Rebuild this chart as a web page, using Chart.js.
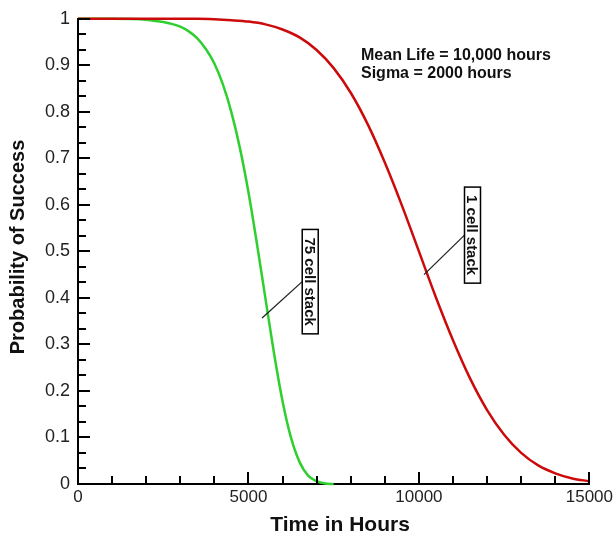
<!DOCTYPE html>
<html>
<head>
<meta charset="utf-8">
<script src="https://cdn.jsdelivr.net/npm/chart.js@4.4.1/dist/chart.umd.min.js"></script>
<style>
  html, body { margin: 0; padding: 0; background: #fff; }
  #wrap { width: 616px; height: 537px; }
</style>
</head>
<body>
<div id="wrap"><canvas id="chart" width="616" height="537"></canvas></div>
<script>
// Survival curves

// 1 cell stack (red)
const oneCellHours = [0, 500, 1000, 1500, 2000, 2500, 3000, 3500, 4000, 4500, 5000, 5500,
  6000, 6500, 7000, 7500, 8000, 8500, 9000, 9500, 10000, 10500, 11000, 11500,
  12000, 12500, 13000, 13500, 14000, 14500, 15000];
const oneCellProb = [1, 1, 1, 1, 1, 1, 1, 1, 0.999, 0.997, 0.994, 0.988,
  0.977, 0.960, 0.933, 0.894, 0.841, 0.773, 0.691, 0.599, 0.500, 0.401, 0.309, 0.227,
  0.159, 0.106, 0.067, 0.040, 0.023, 0.012, 0.006];

// 75 cell stack (green)
const stackHours = [0, 1000, 2000, 2500, 2750, 3000, 3250, 3500, 3750, 4000, 4250, 4500,
  4750, 5000, 5250, 5500, 5750, 6000, 6250, 6500, 6750, 7000, 7250, 7500];
const stackProb = [1, 1, 0.998, 0.993, 0.989, 0.983, 0.973, 0.958, 0.935, 0.904, 0.859, 0.799,
  0.722, 0.627, 0.516, 0.398, 0.281, 0.178, 0.099, 0.047, 0.018, 0.006, 0.001, 0];

// axis ticks
const xTicks = [0, 5000, 10000, 15000];
const yTicks = [0, 0.1, 0.2, 0.3, 0.4, 0.5, 0.6, 0.7, 0.8, 0.9, 1];

const infoLines = ['Mean Life = 10,000 hours', 'Sigma = 2000 hours'];

// curve labels: text, box centre (data units), point on curve the leader starts from
const curveLabels = [
  { text: '75 cell stack', cx: 6812, cy: 0.435, ax: 5400, ay: 0.357 },
  { text: '1 cell stack', cx: 11572, cy: 0.535, ax: 10150, ay: 0.45 }
];

const FONT = '"Liberation Sans", Arial, sans-serif';

const toPoints = (xs, ys) => xs.map((x, i) => ({ x: x, y: ys[i] }));

// inward tick marks, notes, boxed labels and axis titles
const decorPlugin = {
  id: 'decor',
  afterDraw(chart) {
    const ctx = chart.ctx;
    const xs = chart.scales.x;
    const ys = chart.scales.y;
    const area = chart.chartArea;

    ctx.save();
    ctx.strokeStyle = '#000';
    ctx.lineWidth = 2;

    // y ticks: major every 0.1, two minors between
    for (let i = 0; i <= 30; i++) {
      const v = i / 30;
      const py = Math.round(ys.getPixelForValue(v));
      const len = (i % 3 === 0) ? 12 : 8;
      ctx.beginPath();
      ctx.moveTo(area.left, py);
      ctx.lineTo(area.left + len, py);
      ctx.stroke();
    }
    // x ticks: major every 5000, minor every 1000
    for (let v = 1000; v <= 15000; v += 1000) {
      const px = Math.round(xs.getPixelForValue(v));
      const len = (v % 5000 === 0) ? 12 : 8;
      ctx.beginPath();
      ctx.moveTo(px, area.bottom);
      ctx.lineTo(px, area.bottom - len);
      ctx.stroke();
    }

    // mean life / sigma note
    ctx.fillStyle = '#111';
    ctx.font = 'bold 16px ' + FONT;
    ctx.textAlign = 'left';
    ctx.textBaseline = 'middle';
    infoLines.forEach((t, i) => ctx.fillText(t, 361, 56 + i * 18));

    // boxed curve labels with leader lines
    ctx.font = 'bold 15px ' + FONT;
    curveLabels.forEach(lb => {
      const cx = xs.getPixelForValue(lb.cx);
      const cy = ys.getPixelForValue(lb.cy);
      const ax = xs.getPixelForValue(lb.ax);
      const ay = ys.getPixelForValue(lb.ay);
      const tw = ctx.measureText(lb.text).width;
      const bw = 16, bh = tw + 16;

      ctx.lineWidth = 1.3;
      ctx.strokeStyle = '#222';
      ctx.beginPath();
      ctx.moveTo(ax, ay);
      ctx.lineTo(cx - bw / 2, cy);
      ctx.stroke();

      ctx.fillStyle = '#fff';
      ctx.fillRect(cx - bw / 2, cy - bh / 2, bw, bh);
      ctx.lineWidth = 1.5;
      ctx.strokeStyle = '#000';
      ctx.strokeRect(cx - bw / 2, cy - bh / 2, bw, bh);

      ctx.save();
      ctx.translate(cx, cy);
      ctx.rotate(Math.PI / 2);
      ctx.fillStyle = '#111';
      ctx.textAlign = 'center';
      ctx.textBaseline = 'middle';
      ctx.fillText(lb.text, 0, 1);
      ctx.restore();
    });

    // axis titles
    ctx.fillStyle = '#111';
    ctx.textAlign = 'center';
    ctx.textBaseline = 'middle';
    ctx.font = 'bold 21px ' + FONT;
    ctx.fillText('Time in Hours', 340, 525);

    ctx.save();
    ctx.translate(18, 247);
    ctx.rotate(-Math.PI / 2);
    ctx.font = 'bold 20px ' + FONT;
    ctx.fillText('Probability of Success', 0, 0);
    ctx.restore();

    ctx.restore();
  }
};

new Chart(document.getElementById('chart').getContext('2d'), {
  type: 'line',
  data: {
    datasets: [
      {
        label: '1 cell stack',
        data: toPoints(oneCellHours, oneCellProb),
        borderColor: '#cc0a0a',
        borderWidth: 2.5,
        pointRadius: 0,
        cubicInterpolationMode: 'monotone',
        clip: false
      },
      {
        label: '75 cell stack',
        data: toPoints(stackHours, stackProb),
        borderColor: '#2fcf2f',
        borderWidth: 2.5,
        pointRadius: 0,
        cubicInterpolationMode: 'monotone',
        clip: false
      }
    ]
  },
  options: {
    responsive: false,
    animation: false,
    layout: { padding: { top: 17, right: 26, left: 0, bottom: 0 } },
    plugins: {
      legend: { display: false },
      tooltip: { enabled: false }
    },
    scales: {
      x: {
        type: 'linear',
        min: 0,
        max: 15000,
        afterBuildTicks: s => { s.ticks = xTicks.map(v => ({ value: v })); },
        afterFit: s => { s.height = 53; },
        ticks: {
          color: '#222',
          font: { family: FONT, size: 17 },
          padding: 3,
          maxRotation: 0,
          autoSkip: false,
          callback: v => String(v)
        },
        grid: { display: false, drawTicks: false },
        border: { display: true, color: '#000', width: 2 }
      },
      y: {
        min: 0,
        max: 1,
        afterBuildTicks: s => { s.ticks = yTicks.map(v => ({ value: v })); },
        afterFit: s => { s.width = 78; },
        ticks: {
          color: '#222',
          font: { family: FONT, size: 18 },
          padding: 8,
          autoSkip: false,
          callback: v => String(Number(v.toFixed(1)))
        },
        grid: { display: false, drawTicks: false },
        border: { display: true, color: '#000', width: 2 }
      }
    }
  },
  plugins: [decorPlugin]
});
</script>
</body>
</html>
